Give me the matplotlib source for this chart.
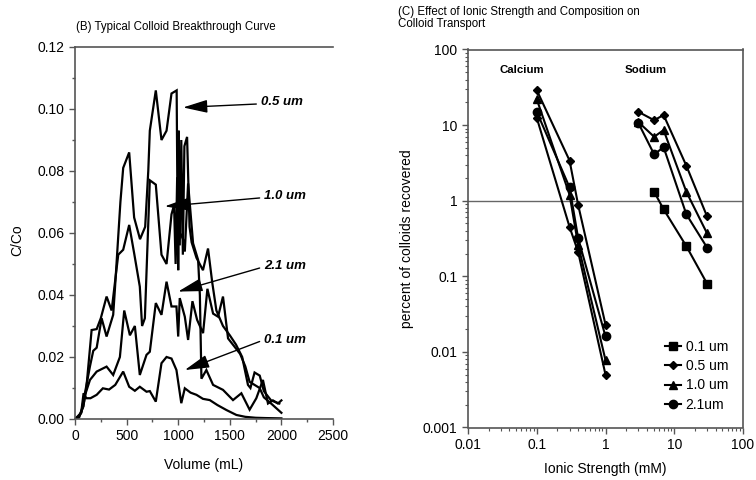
import matplotlib
matplotlib.use("Agg")
import matplotlib.pyplot as plt

plt.rcParams['font.family'] = ['Liberation Sans', 'DejaVu Sans']

# ---------------- (B) breakthrough curves ----------------
vol_05 = [0, 30, 60, 100, 145, 177, 210, 258, 306, 370, 387, 440, 467, 525, 573, 630, 680, 710,
          725, 783, 838, 887, 935, 985, 995, 1005, 1015, 1030, 1045, 1060, 1086, 1110, 1130, 1177,
          1240, 1289, 1330, 1370, 1434, 1500, 1560, 1620, 1676, 1700, 1740, 1790, 1830, 1900, 1980]
cc_05 = [0.000, 0.001, 0.002, 0.009, 0.017, 0.022, 0.023, 0.0325, 0.0266, 0.0336, 0.042, 0.070,
         0.081, 0.086, 0.065, 0.058, 0.062, 0.080, 0.093, 0.106, 0.090, 0.093, 0.105, 0.106, 0.060,
         0.093, 0.056, 0.090, 0.053, 0.088, 0.091, 0.062, 0.057, 0.052, 0.048, 0.055, 0.044, 0.035,
         0.030, 0.027, 0.024, 0.020, 0.011, 0.010, 0.015, 0.014, 0.009, 0.006, 0.005]

vol_10 = [0, 40, 80, 110, 161, 210, 250, 306, 355, 419, 467, 525, 573, 628, 650, 677, 725, 783,
          838, 887, 935, 960, 975, 990, 1000, 1010, 1020, 1047, 1064, 1096, 1144, 1193, 1210, 1225,
          1273, 1338, 1434, 1531, 1612, 1692, 1757, 1821, 1870, 1918, 1966, 2000]
cc_10 = [0.000, 0.001, 0.004, 0.010, 0.0287, 0.029, 0.0325, 0.0395, 0.035, 0.053, 0.0546, 0.0626,
         0.0535, 0.0427, 0.030, 0.0325, 0.077, 0.0756, 0.053, 0.050, 0.066, 0.069, 0.050, 0.078,
         0.048, 0.075, 0.060, 0.058, 0.054, 0.076, 0.0567, 0.0513, 0.040, 0.013, 0.0158, 0.011,
         0.0094, 0.0061, 0.0083, 0.003, 0.0067, 0.0126, 0.005, 0.006, 0.005, 0.006]

vol_21 = [0, 40, 80, 100, 145, 210, 306, 370, 435, 477, 532, 580, 628, 693, 725, 783, 838, 887,
          935, 983, 1000, 1015, 1064, 1096, 1138, 1183, 1241, 1283, 1338, 1386, 1434, 1483, 1530,
          1600, 1650, 1692, 1740, 1789, 1830, 1900, 2000]
cc_21 = [0.000, 0.0005, 0.004, 0.008, 0.0126, 0.0153, 0.0169, 0.0142, 0.020, 0.035, 0.027, 0.030,
         0.0142, 0.0207, 0.0217, 0.0374, 0.0336, 0.0443, 0.0363, 0.0363, 0.0266, 0.039, 0.033,
         0.0255, 0.038, 0.032, 0.0277, 0.042, 0.034, 0.033, 0.0395, 0.026, 0.024, 0.021, 0.017,
         0.012, 0.011, 0.010, 0.007, 0.005, 0.002]

vol_01 = [0, 30, 60, 83, 110, 150, 210, 270, 330, 390, 467, 525, 580, 628, 693, 725, 783, 838,
          887, 935, 983, 1030, 1064, 1120, 1177, 1240, 1306, 1380, 1467, 1564, 1650, 1750, 1850, 2000]
cc_01 = [0.000, 0.0005, 0.002, 0.0083, 0.0067, 0.0067, 0.0078, 0.0099, 0.0095, 0.0110, 0.0153,
         0.0104, 0.0091, 0.0104, 0.0088, 0.0090, 0.0056, 0.018, 0.020, 0.0195, 0.0158, 0.0051,
         0.0099, 0.0085, 0.0078, 0.0065, 0.0061, 0.0045, 0.0029, 0.0013, 0.0007, 0.0004, 0.0003,
         0.0002]

# arrow annotations: label, tip (x, y), tail (x, y)
ann_labels = ['0.5 um', '1.0 um', '2.1 um', '0.1 um']
ann_tip = [(1047, 0.1005), (870, 0.0686), (999, 0.0411), (1064, 0.0158)]
ann_tail = [(1757, 0.1016), (1789, 0.0713), (1789, 0.0487), (1789, 0.0250)]

# ---------------- (C) ionic strength ----------------
ca_x = [0.1, 0.3, 0.4, 1.0]
ca_05 = [29, 3.4, 0.88, 0.023]
ca_10 = [22, 1.2, 0.26, 0.0078]
ca_21 = [15, 1.5, 0.32, 0.016]
ca_01 = [12.5, 0.45, 0.21, 0.005]

na_x = [3.0, 5.1, 7.0, 15, 30]
na_05 = [15, 11.6, 13.6, 2.9, 0.62]
na_10 = [11, 7.0, 8.6, 1.31, 0.37]
na_21 = [10.7, 4.1, 5.1, 0.66, 0.24]
na01_x = [5.1, 7.0, 15, 30]
na_01 = [1.31, 0.77, 0.25, 0.08]

legend_labels = ['0.1 um', '0.5 um', '1.0 um', '2.1um']

W, H = 756, 480
fig = plt.figure(figsize=(W / 100, H / 100), dpi=100)

spine_col = '#555555'

# ---- left axes ----
axB = fig.add_axes([75 / W, (H - 419) / H, 258 / W, 372 / H])
for xs, ys in [(vol_05, cc_05), (vol_10, cc_10), (vol_21, cc_21), (vol_01, cc_01)]:
    axB.plot(xs, ys, color='black', lw=1.6, solid_joinstyle='miter')
axB.set_xlim(0, 2500)
axB.set_ylim(0, 0.12)
axB.set_xticks([0, 500, 1000, 1500, 2000, 2500])
axB.set_xticks(range(250, 2500, 500), minor=True)
axB.set_yticks([0, 0.02, 0.04, 0.06, 0.08, 0.10, 0.12])
axB.set_yticks([0.01, 0.03, 0.05, 0.07, 0.09, 0.11], minor=True)
axB.set_yticklabels(['0.00', '0.02', '0.04', '0.06', '0.08', '0.10', '0.12'])
axB.spines['right'].set_visible(False)
for s in ['left', 'bottom', 'top']:
    axB.spines[s].set_color(spine_col)
    axB.spines[s].set_linewidth(1.2)
axB.tick_params(which='major', direction='out', length=4, width=1, color=spine_col, labelsize=10)
axB.tick_params(which='minor', direction='out', length=2.5, width=1, color=spine_col)
axB.set_xlabel('Volume (mL)', fontsize=10)
axB.set_ylabel('C/Co', fontsize=10)
axB.xaxis.set_label_coords(0.5, -0.105)
axB.yaxis.set_label_coords(-0.198, 0.48)

for lab, tip, tail in zip(ann_labels, ann_tip, ann_tail):
    axB.annotate('', xy=tip, xytext=tail,
                 arrowprops=dict(arrowstyle='-|>,head_length=1.5,head_width=0.4',
                                 color='black', lw=1.0, shrinkA=0, shrinkB=0,
                                 mutation_scale=10))
    axB.text(tail[0] + 45, tail[1] + 0.0005, lab, fontsize=9.5, fontweight='bold',
             fontstyle='italic', ha='left', va='center')

fig.text(76 / W, 1 - 27 / H, '(B) Typical Colloid Breakthrough Curve', fontsize=8.3,
         ha='left', va='center')

# ---- right axes ----
axC = fig.add_axes([468 / W, (H - 427.5) / H, 275 / W, 378 / H])
axC.set_xscale('log')
axC.set_yscale('log')
axC.set_xlim(0.01, 100)
axC.set_ylim(0.001, 100)
axC.axhline(1, color='#666666', lw=1.0, zorder=1)

mk = dict(color='black', lw=1.5, mec='black', mfc='black')
h01, = axC.plot(na01_x, na_01, marker='s', ms=6, **mk)
h05, = axC.plot(ca_x, ca_05, marker='D', ms=4.2, **mk)
axC.plot(na_x, na_05, marker='D', ms=4.2, **mk)
axC.plot(ca_x, ca_01, marker='D', ms=4.2, **mk)
h10, = axC.plot(ca_x, ca_10, marker='^', ms=6, **mk)
axC.plot(na_x, na_10, marker='^', ms=6, **mk)
h21, = axC.plot(ca_x, ca_21, marker='o', ms=6, **mk)
axC.plot(na_x, na_21, marker='o', ms=6, **mk)

axC.set_xticks([0.01, 0.1, 1, 10, 100])
axC.set_xticklabels(['0.01', '0.1', '1', '10', '100'])
axC.set_yticks([0.001, 0.01, 0.1, 1, 10, 100])
axC.set_yticklabels(['0.001', '0.01', '0.1', '1', '10', '100'])
for s in axC.spines.values():
    s.set_color(spine_col)
    s.set_linewidth(1.2)
axC.tick_params(which='major', direction='out', length=4, width=1, color=spine_col, labelsize=10,
                top=False, right=False)
axC.tick_params(which='minor', direction='out', length=2.5, width=0.8, color=spine_col,
                top=False, right=False)
axC.set_xlabel('Ionic Strength (mM)', fontsize=10)
axC.set_ylabel('percent of colloids recovered', fontsize=10)
axC.xaxis.set_label_coords(0.5, -0.092)
axC.yaxis.set_label_coords(-0.196, 0.5)

axC.text(0.113, 0.946, 'Calcium', transform=axC.transAxes, fontsize=8.2, fontweight='bold',
         ha='left', va='center')
axC.text(0.571, 0.946, 'Sodium', transform=axC.transAxes, fontsize=8.2, fontweight='bold',
         ha='left', va='center')

axC.legend([h01, h05, h10, h21], legend_labels, loc='upper left', bbox_to_anchor=(0.718, 0.231),
           frameon=False, fontsize=10, handlelength=1.1, handletextpad=0.35, labelspacing=0.37,
           borderaxespad=0, borderpad=0)

fig.text(398 / W, 1 - 12 / H, '(C) Effect of Ionic Strength and Composition on', fontsize=8.3,
         ha='left', va='center')
fig.text(398 / W, 1 - 24 / H, 'Colloid Transport', fontsize=8.3, ha='left', va='center')

fig.savefig('out.png', dpi=100)
